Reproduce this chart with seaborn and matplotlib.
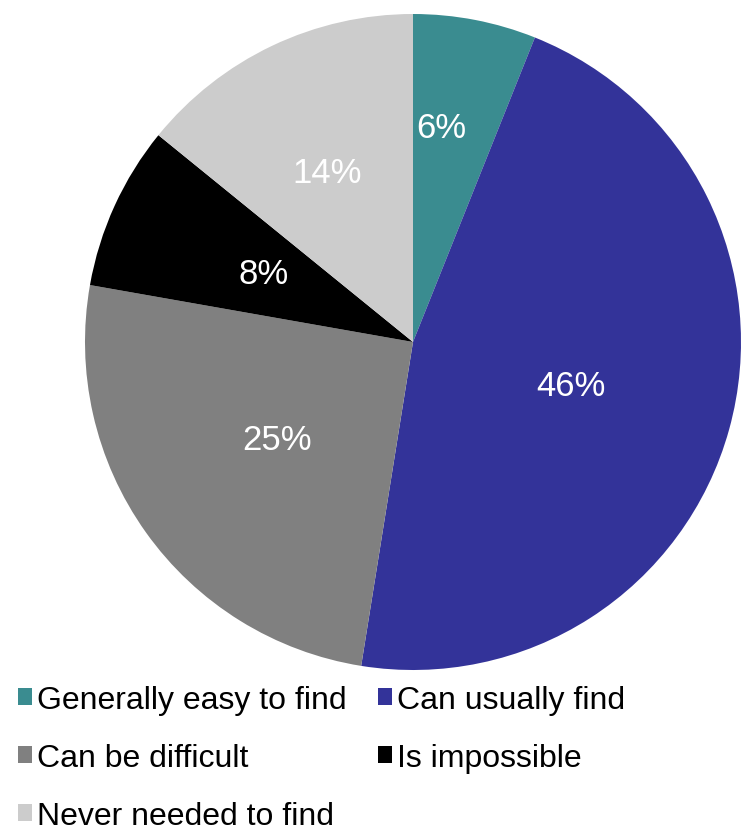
import matplotlib
matplotlib.use("Agg")
import matplotlib.pyplot as plt
import matplotlib.patches as mpatches
import numpy as np
import seaborn as sns

# Survey responses: how easy is it to find what you need
categories = ["Generally easy to find", "Can usually find", "Can be difficult",
              "Is impossible", "Never needed to find"]
shares = [6, 46, 25, 8, 14]
colors = ["#3A8C90", "#333399", "#808080", "#000000", "#CCCCCC"]
# percentage label placement: fraction of the radius, and fraction through each wedge's sweep
label_radius = [0.66, 0.50, 0.51, 0.50, 0.58]
label_sweep = [0.35, 0.5, 0.5, 0.5, 0.47]

sns.set_style("white")
plt.rcParams["font.family"] = ["Liberation Sans", "DejaVu Sans"]
plt.rcParams["text.color"] = "black"

fig = plt.figure(figsize=(7.5, 8.37), dpi=100)
ax = fig.add_axes([85 / 750, 1 - 671 / 837, 656 / 750, 656 / 837])

wedges, _ = ax.pie(shares, colors=colors, startangle=90, counterclock=False,
                   radius=1.0, wedgeprops=dict(linewidth=0))
ax.set_xlim(-1, 1)
ax.set_ylim(-1, 1)
ax.set_aspect("auto")
ax.axis("off")

for w, val, rr, fr in zip(wedges, shares, label_radius, label_sweep):
    # wedges run clockwise, so theta2 is the leading edge
    ang = np.deg2rad(w.theta2 - fr * (w.theta2 - w.theta1))
    ax.text(rr * np.cos(ang), rr * np.sin(ang), f"{val}%", color="white",
            fontsize=25, ha="center", va="center")

handles = [mpatches.Patch(facecolor=c, edgecolor="none") for c in colors]
order = [0, 2, 4, 1, 3]
leg = fig.legend([handles[i] for i in order], [categories[i] for i in order],
                 ncol=2, loc="upper left", bbox_to_anchor=(18 / 750, 1 - 686 / 837),
                 frameon=False, fontsize=23, borderpad=0, borderaxespad=0,
                 handlelength=0.45, handleheight=0.45, handletextpad=0.15,
                 labelspacing=0.88, columnspacing=0.98, labelcolor="black")

fig.savefig("out.png", dpi=100, facecolor="white")
